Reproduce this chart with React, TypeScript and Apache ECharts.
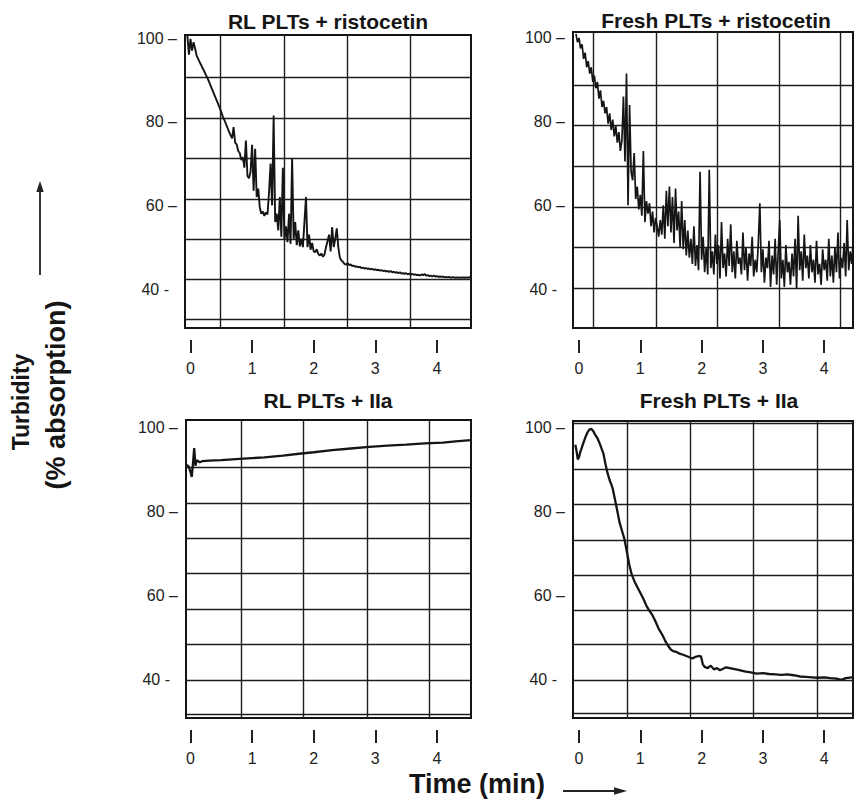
import React, { useEffect, useRef } from "react";
import * as echarts from "echarts";

// ---------- tick labels / titles ----------
const X_TICKS = [0, 1, 2, 3, 4];
const Y_TICKS = [40, 60, 80, 100];
const TITLES = [
  "RL PLTs + ristocetin",
  "Fresh PLTs + ristocetin",
  "RL PLTs + IIa",
  "Fresh PLTs + IIa",
];

// ---------- sampled traces (time in min, turbidity in %) ----------
// ristocetin traces are sampled every 0.025 min starting at -0.05 min
const RIS_T0 = -0.05;
const RIS_DT = 0.025;

const rlRistocetin = [
  100.5, 96, 99.8, 97, 99, 97.5, 95.8, 95, 94.2, 93.5,
  92.7, 92, 91.2, 90.4, 89.6, 88.7, 87.8, 86.9, 86, 85.1,
  84.2, 83.3, 82.3, 81.2, 80.4, 79.5, 78.6, 77.6, 76.8, 76,
  78.7, 75, 74.6, 73, 72.5, 70.8, 71.5, 69, 75.5, 67,
  66.5, 68, 74.5, 63.5, 73.5, 62, 64, 59.5, 58, 58.5,
  57.5, 58.3, 57.8, 63, 70, 60, 81.5, 56, 58, 54,
  62, 52.5, 69, 51.8, 55, 51.2, 58, 50.8, 71.3, 52,
  56, 50.5, 54, 50.2, 52, 50, 56, 62, 50, 53,
  49.4, 51, 49, 48.8, 49.5, 48.4, 48, 48.5, 47.7, 48.2,
  50, 51.5, 53, 49, 54.8, 50, 52, 54.5, 50, 47.5,
  46.8, 46.5, 46, 45.8, 46.2, 45.7, 45.9, 45.5, 45.6, 45.3,
  45.4, 45.2, 45.3, 45.0, 45.1, 44.9, 45.0, 44.8, 44.9, 44.7,
  44.8, 44.6, 44.7, 44.5, 44.6, 44.4, 44.5, 44.3, 44.4, 44.2,
  44.3, 44.1, 44.3, 44.0, 44.1, 43.9, 44.0, 43.8, 44.0, 43.7,
  43.8, 43.6, 43.8, 43.5, 43.7, 43.4, 43.6, 43.4, 43.5, 43.3,
  43.4, 43.2, 43.5, 43.3, 43.6, 43.2, 43.3, 43.1, 43.2, 43.0,
  43.2, 43.0, 43.1, 42.9, 43.0, 42.9, 43.0, 42.8, 42.9, 42.8,
  42.9, 42.7, 42.8, 42.8, 42.7, 42.8, 42.7, 42.8, 42.7, 42.8,
  42.7, 42.8, 42.7, 42.8, 42.8,
];

const freshRistocetin = [
  101, 99, 100, 97.5, 98.5, 95, 96.5, 93, 94.5, 91.5,
  93, 89.5, 91, 88, 89.5, 85.5, 87.5, 83.5, 85, 82,
  83.5, 79.5, 82, 78, 80.5, 76.5, 79, 75, 77.5, 73,
  75.5, 86, 70.5, 91.5, 60, 84, 68, 66, 72.5, 61.5,
  64.5, 59, 62.5, 57.5, 73, 56, 61, 58, 60.5, 55,
  58.5, 53.5, 57, 55, 52.5, 56.5, 53, 60, 52, 63.5,
  55, 64.5, 53.5, 62, 51, 64, 54, 58.5, 50, 61,
  49.5, 56.5, 48, 54, 47.5, 52, 46, 55, 45.5, 50.5,
  44.5, 68, 47, 52.5, 44, 50, 43.5, 68.5, 45, 49,
  43.5, 53, 46, 50.5, 42.5, 56, 45, 48.5, 43, 52,
  45.5, 55.5, 44, 49, 42.5, 51.5, 46, 47.5, 43.5, 53.5,
  44.5, 50, 42, 48.5, 45.5, 52.5, 43, 47, 44, 51,
  60.5, 44, 49.5, 41.5, 47.5, 45, 51.5, 40.5, 48, 43.5,
  52, 41, 49, 56.5, 42.5, 47, 40.5, 50.5, 44, 46.5,
  41, 48.5, 43, 52, 40, 57.5, 44.5, 49, 42, 53,
  45, 48, 42.5, 50.5, 44, 47, 41.5, 51.5, 43.5, 46,
  41, 49.5, 44.5, 47, 42, 52, 43, 48, 41.5, 50,
  44, 53.5, 42.5, 47.5, 45, 51, 43, 56.5, 44.5, 49,
  46, 52,
];

const rlIIaTime = [
  -0.06, -0.03, 0, 0.02, 0.04, 0.06, 0.08, 0.1, 0.15, 0.2, 0.3, 0.5, 0.8,
  1.0, 1.2, 1.5, 1.8, 2.0, 2.3, 2.6, 2.9, 3.2, 3.5, 3.8, 4.1, 4.3, 4.55,
];
const rlIIaValue = [
  91.2, 90.8, 89.5, 88.3, 91.5, 95.2, 91, 92.3, 91.8, 92.1, 92.2, 92.3, 92.6,
  92.8, 93.0, 93.4, 93.9, 94.2, 94.7, 95.1, 95.5, 95.8, 96.0, 96.3, 96.5, 96.8, 97.1,
];

const freshIIaTime = [
  -0.06, -0.04, -0.02, 0, 0.02, 0.05, 0.08, 0.11, 0.14, 0.17, 0.2, 0.23, 0.26,
  0.3, 0.34, 0.38, 0.4, 0.43, 0.46, 0.5, 0.52, 0.55, 0.58, 0.62, 0.66, 0.7,
  0.74, 0.78, 0.82, 0.86, 0.9, 0.95, 1.0, 1.05, 1.1, 1.15, 1.2, 1.25, 1.3,
  1.35, 1.4, 1.45, 1.5, 1.55, 1.6, 1.65, 1.7, 1.75, 1.8, 1.85, 1.9, 1.95,
  1.99, 2.02, 2.05, 2.1, 2.15, 2.2, 2.25, 2.3, 2.4, 2.5, 2.6, 2.7, 2.8, 2.9,
  3.0, 3.1, 3.2, 3.3, 3.4, 3.5, 3.6, 3.7, 3.8, 3.9, 4.0, 4.1, 4.2, 4.28,
  4.35, 4.45, 4.5,
];
const freshIIaValue = [
  96, 94.5, 92.5, 93, 94.2, 95.5, 96.8, 98, 99, 99.6, 99.8, 99.3, 98.5,
  97.6, 96.2, 94.6, 93.8, 91.5, 89.5, 87.5, 86.8, 85.5, 83.4, 80.5, 77.5, 75.5,
  73.5, 70.5, 67.3, 65, 63.5, 62, 60.6, 59.2, 57.5, 56.3, 55.2, 53.7, 52,
  50.8, 49.3, 48, 47, 46.6, 46.4, 46, 45.8, 45.5, 45.2, 44.9, 45.3, 45.5,
  45.4, 43.5, 42.9, 42.6, 43.2, 42.3, 42.6, 42.1, 42.8, 42.5, 42.2, 41.8, 41.6, 41.3,
  41.4, 41.2, 41.1, 41.0, 41.1, 40.9, 40.6, 40.5, 40.4, 40.3, 40.4, 40.2, 40.1, 39.8,
  40.2, 40.4, 40.5,
];

// ---------- chart-paper rulings, in data units of each panel ----------
const paperX = [
  [0.495, 1.518, 2.541, 3.563],
  [0.245, 1.256, 2.251, 3.263, 4.258],
  [0.82, 1.826, 2.865, 3.872],
  [0.783, 1.811, 2.855, 3.883],
];
const paperY = [
  [90.68, 80.88, 71.32, 61.52, 51.95, 42.39, 32.83],
  [88.77, 79.21, 69.4, 59.6, 50.04, 40.24],
  [90.68, 82.08, 73.71, 65.34, 56.73, 48.37, 39.76, 31.63],
  [101.2, 90.2, 81.84, 73.23, 64.86, 56.5, 48.37, 39.76, 31.87],
];

// ---------- layout ----------
const GRIDS = [
  { left: 185, top: 35, width: 286, height: 293 },
  { left: 573, top: 32, width: 280, height: 296 },
  { left: 186, top: 420, width: 285, height: 298 },
  { left: 573, top: 421, width: 280, height: 297 },
];
const X_RANGE = [
  [-0.089, 4.554],
  [-0.098, 4.47],
  [-0.073, 4.554],
  [-0.098, 4.47],
];
const Y_RANGE = [
  [30.68, 100.72],
  [30.68, 101.43],
  [30.68, 101.91],
  [30.68, 101.67],
];
const TITLE_POS = [
  [328, 21],
  [716, 20],
  [328, 400],
  [719, 400],
];

const FONT = '"Liberation Sans", Arial, Helvetica, sans-serif';
const INK = "#151515";

function buildOption() {
  const risA = rlRistocetin.map((v, i) => [RIS_T0 + RIS_DT * i, v]);
  const risB = freshRistocetin.map((v, i) => [RIS_T0 + RIS_DT * i, v]);
  const iiaA = rlIIaTime.map((t, i) => [t, rlIIaValue[i]]);
  const iiaB = freshIIaTime.map((t, i) => [t, freshIIaValue[i]]);
  const traces = [risA, risB, iiaA, iiaB];
  const widths = [1.9, 1.7, 2.3, 2.3];

  const grid = GRIDS.map((g) => ({
    ...g,
    show: true,
    borderColor: INK,
    borderWidth: 2,
    backgroundColor: "transparent",
    containLabel: false,
  }));

  const xAxis = GRIDS.map((_, i) => ({
    type: "value",
    gridIndex: i,
    min: X_RANGE[i][0],
    max: X_RANGE[i][1],
    position: "bottom",
    offset: 12,
    axisLine: { show: false },
    splitLine: { show: false },
    axisTick: {
      show: true,
      inside: false,
      length: 13,
      customValues: X_TICKS,
      lineStyle: { color: "#222", width: 2 },
    },
    axisLabel: {
      show: true,
      customValues: X_TICKS,
      margin: 20,
      fontSize: 16,
      fontFamily: FONT,
      color: "#222",
    },
  }));

  const labelRich = {
    n: { fontSize: 16, fontFamily: FONT, color: "#222" },
    s: { fontSize: 16, fontFamily: FONT, color: "#222", padding: [0, 8, 0, 0] },
  };

  const yAxis = GRIDS.map((_, i) => ({
    type: "value",
    gridIndex: i,
    min: Y_RANGE[i][0],
    max: Y_RANGE[i][1],
    position: "left",
    offset: 7,
    axisLine: { show: false },
    splitLine: { show: false },
    axisTick: { show: false },
    axisLabel: {
      show: true,
      customValues: Y_TICKS,
      margin: 1,
      fontSize: 16,
      fontFamily: FONT,
      color: "#222",
      formatter: (v: number) => (v === 40 ? "{s|40 -}" : `{n|${v} \u2013}`),
      rich: labelRich,
    },
  }));

  const series = traces.map((data, i) => ({
    type: "line",
    name: TITLES[i],
    xAxisIndex: i,
    yAxisIndex: i,
    data,
    showSymbol: false,
    symbol: "none",
    clip: true,
    lineStyle: { color: INK, width: widths[i] },
    z: 3,
    silent: true,
    markLine: {
      silent: true,
      z: 1,
      symbol: ["none", "none"],
      label: { show: false },
      lineStyle: { color: "#1e1e1e", width: 1.4, type: "solid" },
      emphasis: { disabled: true },
      data: [
        ...paperX[i].map((v) => ({ xAxis: v })),
        ...paperY[i].map((v) => ({ yAxis: v })),
      ],
    },
  }));

  const textStyle = (size: number) => ({
    font: `bold ${size}px ${FONT}`,
    fill: INK,
    textAlign: "center",
    textVerticalAlign: "middle",
    verticalAlign: "middle",
  });

  const graphic: any[] = TITLES.map((t, i) => ({
    type: "text",
    x: TITLE_POS[i][0],
    y: TITLE_POS[i][1],
    style: { text: t, ...textStyle(21) },
  }));

  graphic.push(
    {
      type: "text",
      x: 21,
      y: 402,
      rotation: Math.PI / 2,
      style: { text: "Turbidity", ...textStyle(23) },
    },
    {
      type: "text",
      x: 56,
      y: 395,
      rotation: Math.PI / 2,
      style: { text: "(% absorption)", ...textStyle(27) },
    },
    {
      type: "line",
      shape: { x1: 40, y1: 275, x2: 40, y2: 190 },
      style: { stroke: "#222", lineWidth: 1.8 },
    },
    {
      type: "polygon",
      shape: { points: [[36.3, 192], [43.7, 192], [40, 181]] },
      style: { fill: "#222" },
    },
    {
      type: "text",
      x: 477,
      y: 784,
      style: { text: "Time (min)", ...textStyle(27) },
    },
    {
      type: "line",
      shape: { x1: 563, y1: 791, x2: 616, y2: 791 },
      style: { stroke: "#222", lineWidth: 1.8 },
    },
    {
      type: "polygon",
      shape: { points: [[614, 787.3], [614, 794.7], [627, 791]] },
      style: { fill: "#222" },
    }
  );

  return {
    animation: false,
    backgroundColor: "#ffffff",
    grid,
    xAxis,
    yAxis,
    series,
    graphic,
  };
}

export default function App() {
  const ref = useRef<HTMLDivElement | null>(null);
  useEffect(() => {
    if (!ref.current) return;
    const chart = echarts.init(ref.current, undefined, { renderer: "svg" });
    chart.setOption(buildOption() as any);
    return () => chart.dispose();
  }, []);
  return (
    <div
      ref={ref}
      style={{ position: "fixed", left: 0, top: 0, width: 854, height: 802 }}
    />
  );
}
